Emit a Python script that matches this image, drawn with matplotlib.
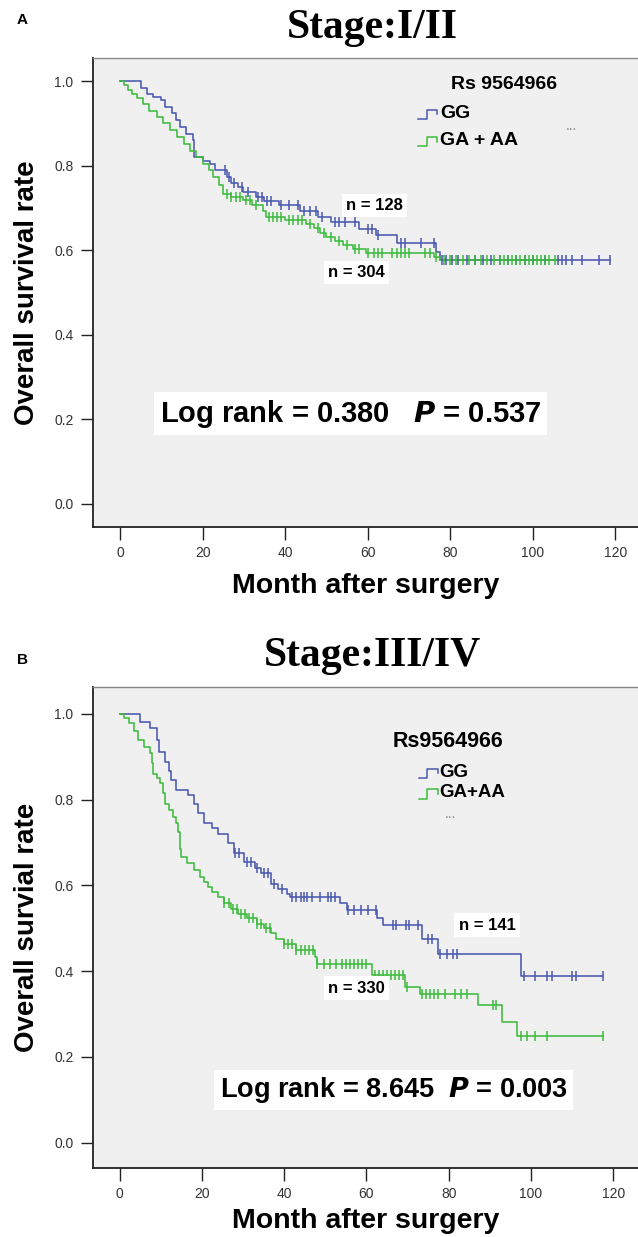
import numpy as np
import matplotlib
matplotlib.use("Agg")
import matplotlib.pyplot as plt
from matplotlib.lines import Line2D

# ---------------- DATA ----------------
# Panel A (Stage I/II)
a_gg_t = [0, 5, 6.5, 8, 10, 11, 12.5, 13.5, 14.5, 16, 17.7, 18, 20, 21.7, 23, 25.8, 27, 28.5,
          29.8, 33, 35, 38.6, 43.5, 48, 51, 58, 62, 67, 76.5, 77.5]
a_gg_s = [1.0, 0.985, 0.97, 0.962, 0.955, 0.94, 0.924, 0.908, 0.892, 0.876, 0.86, 0.82, 0.812,
          0.805, 0.79, 0.773, 0.76, 0.75, 0.738, 0.726, 0.716, 0.706, 0.694, 0.678, 0.667, 0.651,
          0.635, 0.617, 0.595, 0.578]
a_gg_end = 118.8
a_gg_cens = [25.5, 26.5, 27.5, 29.5, 31, 33.5, 34.5, 35.5, 36.5, 39, 41, 43, 44.5, 46, 47.5, 49,
             52, 53, 54.5, 57, 60, 61, 62.5, 68, 69, 73, 76, 78, 79, 80.5, 82, 84, 86, 88, 90, 92,
             94, 96, 98, 100, 103, 106, 107, 108, 109.5, 112, 116, 118.8]

a_ga_t = [0, 1, 2, 3, 4, 5.6, 7, 8.9, 10.5, 12, 13.7, 15.5, 17, 18.5, 20, 21.5, 22.5, 24, 25, 27,
          29.8, 32, 34.6, 35.4, 40, 45, 47, 48.5, 50, 52, 54, 56.4, 59.6, 76, 77.5]
a_ga_s = [1.0, 0.99, 0.98, 0.97, 0.96, 0.947, 0.93, 0.915, 0.9, 0.885, 0.868, 0.852, 0.836, 0.82,
          0.805, 0.79, 0.773, 0.755, 0.734, 0.726, 0.718, 0.706, 0.694, 0.678, 0.672, 0.663, 0.652,
          0.642, 0.631, 0.622, 0.612, 0.603, 0.593, 0.585, 0.578]
a_ga_end = 105.8
a_ga_cens = [26, 27, 28, 29, 30.5, 31.5, 33, 36, 37, 38, 39, 41, 42, 43, 44, 46, 48, 49.5, 51, 53,
             55, 57, 58, 60, 61.5, 62.5, 63.5, 66, 67, 68, 69, 70, 74, 75, 76.5, 78.5, 80, 81.5,
             83, 84.5, 86, 87.5, 89, 90.5, 92, 93, 94, 95, 96, 97, 98, 99, 100, 101, 102, 103,
             104, 105.5]

# Panel B (Stage III/IV)
b_gg_t = [0, 5, 7.5, 9.2, 9.6, 11, 12, 12.6, 13.8, 16.6, 18, 19, 20.6, 22.5, 23.9, 26.3, 27.9,
          30.3, 33, 34.3, 36.7, 38.5, 40.7, 41.5, 53.6, 55.2, 62.6, 64, 73.5, 77.5, 97.5]
b_gg_s = [1.0, 0.982, 0.967, 0.94, 0.912, 0.889, 0.866, 0.846, 0.822, 0.811, 0.79, 0.768, 0.745,
          0.733, 0.721, 0.698, 0.675, 0.655, 0.64, 0.628, 0.604, 0.592, 0.581, 0.573, 0.56, 0.542,
          0.525, 0.507, 0.476, 0.441, 0.388]
b_gg_end = 117.5
b_gg_cens = [28, 29, 31, 32, 33.5, 35, 36, 37.5, 39.5, 42, 43, 44, 44.8, 45.5, 46.7, 48.7, 50.7,
             51.5, 52.3, 55.6, 57.1, 58.8, 60.4, 62.4, 66.4, 67.2, 69.6, 70.4, 72.5, 75, 76,
             78, 79.5, 81, 82, 98.2, 101, 104, 105, 110, 111, 117.5]

b_ga_t = [0, 1.2, 2.2, 3.5, 4.6, 6, 7.4, 7.8, 8.2, 9, 9.8, 10.5, 11, 12, 13, 13.8, 14.2, 14.6,
          14.8, 15, 16.5, 18.2, 19.5, 20.5, 21.4, 22.5, 23.9, 25.5, 27, 28.7, 31, 33.5, 35, 36.7,
          38, 39.9, 43, 47.5, 48, 61.3, 69.3, 73, 87, 93, 96.5]
b_ga_s = [1.0, 0.99, 0.978, 0.96, 0.939, 0.924, 0.908, 0.885, 0.861, 0.85, 0.838, 0.815, 0.791,
          0.775, 0.76, 0.745, 0.725, 0.706, 0.686, 0.667, 0.652, 0.636, 0.62, 0.608, 0.596, 0.585,
          0.573, 0.558, 0.546, 0.534, 0.523, 0.511, 0.5, 0.488, 0.476, 0.464, 0.449, 0.432, 0.417,
          0.39, 0.363, 0.346, 0.32, 0.281, 0.248]
b_ga_end = 117.5
b_ga_cens = [25.5, 26.5, 27.5, 28.5, 29.5, 30.5, 31.5, 32.5, 33.5, 34.5, 35.5, 36.5, 40, 41, 42,
             43, 44, 45, 46, 47, 48, 49.6, 51.2, 52.5, 54, 55, 56, 57, 58, 59, 60, 62.2, 63, 64,
             65, 66, 67, 68, 69, 69.8, 73.5, 74.5, 75.5, 76.5, 77.5, 79, 81.5, 83, 84.5, 90.8,
             91.6, 97.5, 99, 101, 104, 117.5]

x_ticks = [0, 20, 40, 60, 80, 100, 120]
y_ticks = [0.0, 0.2, 0.4, 0.6, 0.8, 1.0]

BLUE = "#4a58b0"
GREEN = "#3dbb3d"
BG = "#f0f0f0"
SANS = ["Liberation Sans", "DejaVu Sans"]
SERIF = ["Liberation Serif", "DejaVu Serif"]

plt.rcParams["font.family"] = SANS

fig = plt.figure(figsize=(6.38, 12.37), dpi=100)


def surv_at(t, s, x):
    idx = np.searchsorted(np.asarray(t), np.asarray(x), side="right") - 1
    return np.asarray(s)[idx]


def km(ax, t, s, end, cens, color):
    tt = list(t) + [end]
    ss = list(s) + [s[-1]]
    ax.step(tt, ss, where="post", color=color, lw=1.15, zorder=3)
    ax.plot(cens, surv_at(t, s, cens), ls="none", marker="|", ms=7, mew=1.1,
            color=color, zorder=4)


def legend_handle(ax, x0, y, color):
    w = 0.035
    h = 0.012
    xs = [x0, x0 + w * 0.45, x0 + w * 0.45, x0 + w, x0 + w]
    ys = [y - h, y - h, y + h * 0.6, y + h * 0.6, y - h * 0.2]
    ax.add_line(Line2D(xs, ys, transform=ax.transAxes, color=color, lw=1.1, zorder=5))


def setup(ax, ylab, ylim, xlim, xpad):
    ax.set_facecolor(BG)
    ax.set_xlim(*xlim)
    ax.set_ylim(*ylim)
    ax.set_xticks(x_ticks)
    ax.set_yticks(y_ticks)
    ax.set_xticklabels([str(v) for v in x_ticks])
    ax.set_yticklabels(["%.1f" % v for v in y_ticks])
    ax.tick_params(axis="both", direction="out", length=9, width=1.0, colors="#222222",
                   labelsize=10, pad=5)
    ax.tick_params(axis="both", labelcolor="#333333")
    for sp in ["left", "bottom"]:
        ax.spines[sp].set_color("#222222")
        ax.spines[sp].set_linewidth(1.3)
    ax.spines["right"].set_visible(False)
    ax.spines["top"].set_color("#888888")
    ax.spines["top"].set_linewidth(1.0)
    ax.set_ylabel(ylab, fontsize=20, fontweight="bold", labelpad=10)
    ax.set_xlabel("Month after surgery", fontsize=20.5, fontweight="bold", labelpad=xpad)


W, H = 638.0, 1237.0

# ---------- Panel A ----------
axA = fig.add_axes([93 / W, 1 - 527 / H, (W - 93) / W, (527 - 58) / H])
setup(axA, "Overall survival rate", (-0.055, 1.055), (-6.55, 125.5), 9)
km(axA, a_gg_t, a_gg_s, a_gg_end, a_gg_cens, BLUE)
km(axA, a_ga_t, a_ga_s, a_ga_end, a_ga_cens, GREEN)

axA.text(0.657, 0.944, "Rs 9564966", transform=axA.transAxes, fontsize=14, fontweight="bold",
         va="center", ha="left")
legend_handle(axA, 0.597, 0.882, BLUE)
legend_handle(axA, 0.597, 0.824, GREEN)
axA.text(0.637, 0.882, "GG", transform=axA.transAxes, fontsize=14, fontweight="bold",
         va="center", ha="left")
axA.text(0.637, 0.824, "GA + AA", transform=axA.transAxes, fontsize=14, fontweight="bold",
         va="center", ha="left")
axA.text(0.877, 0.855, "...", transform=axA.transAxes, fontsize=10, color="#888888",
         va="center", ha="center")
box = dict(boxstyle="square,pad=0.25", fc="white", ec="none")
axA.text(0.517, 0.685, "n = 128", transform=axA.transAxes, fontsize=12, fontweight="bold",
         va="center", ha="center", bbox=box, zorder=6)
axA.text(0.484, 0.542, "n = 304", transform=axA.transAxes, fontsize=12, fontweight="bold",
         va="center", ha="center", bbox=box, zorder=6)
axA.text(0.472, 0.242, r"Log rank = 0.380   $\boldsymbol{P}$ = 0.537", transform=axA.transAxes,
         fontsize=21, fontweight="bold", va="center", ha="center",
         bbox=dict(boxstyle="square,pad=0.2", fc="white", ec="none"), zorder=6)

fig.text(17 / W, 1 - 20 / H, "A", fontsize=11, fontweight="bold", va="center", ha="left")
fig.text(372 / W, 1 - 28 / H, "Stage:I/II", fontsize=30, fontweight="bold", family=SERIF,
         va="center", ha="center")

# ---------- Panel B ----------
axB = fig.add_axes([93 / W, 1 - 1168 / H, (W - 93) / W, (1168 - 687) / H])
setup(axB, "Overall survial rate", (-0.0595, 1.063), (-6.45, 126.0), 5)
km(axB, b_gg_t, b_gg_s, b_gg_end, b_gg_cens, BLUE)
km(axB, b_ga_t, b_ga_s, b_ga_end, b_ga_cens, GREEN)

axB.text(0.55, 0.886, "Rs9564966", transform=axB.transAxes, fontsize=15.5, fontweight="bold",
         va="center", ha="left")
legend_handle(axB, 0.598, 0.823, BLUE)
legend_handle(axB, 0.598, 0.780, GREEN)
axB.text(0.636, 0.823, "GG", transform=axB.transAxes, fontsize=13.5, fontweight="bold",
         va="center", ha="left")
axB.text(0.636, 0.780, "GA+AA", transform=axB.transAxes, fontsize=13.5, fontweight="bold",
         va="center", ha="left")
axB.text(0.655, 0.735, "...", transform=axB.transAxes, fontsize=10, color="#888888",
         va="center", ha="center")
axB.text(0.723, 0.505, "n = 141", transform=axB.transAxes, fontsize=12, fontweight="bold",
         va="center", ha="center", bbox=box, zorder=6)
axB.text(0.484, 0.374, "n = 330", transform=axB.transAxes, fontsize=12, fontweight="bold",
         va="center", ha="center", bbox=box, zorder=6)
axB.text(0.552, 0.162, r"Log rank = 8.645  $\boldsymbol{P}$ = 0.003", transform=axB.transAxes,
         fontsize=19.5, fontweight="bold", va="center", ha="center",
         bbox=dict(boxstyle="square,pad=0.2", fc="white", ec="none"), zorder=6)

fig.text(17 / W, 1 - 660 / H, "B", fontsize=11, fontweight="bold", va="center", ha="left")
fig.text(372 / W, 1 - 656 / H, "Stage:III/IV", fontsize=30, fontweight="bold", family=SERIF,
         va="center", ha="center")

fig.savefig("out.png", dpi=100, facecolor="white")
